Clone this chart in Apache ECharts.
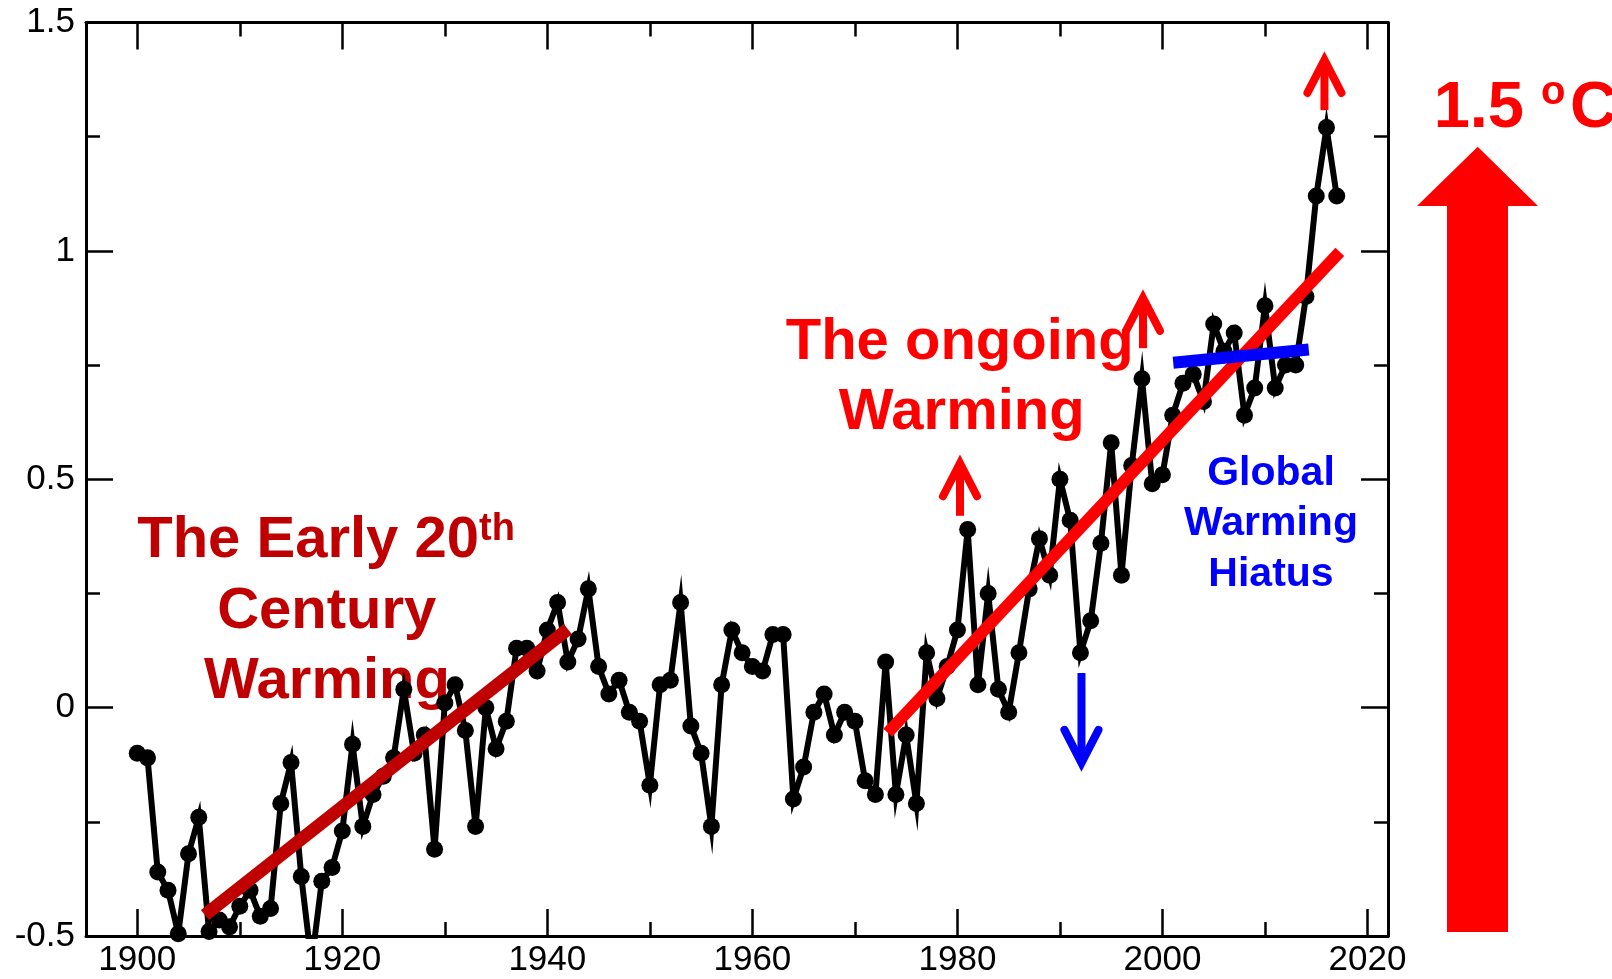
<!DOCTYPE html>
<html>
<head>
<meta charset="utf-8">
<script src="https://cdn.jsdelivr.net/npm/echarts@6/dist/echarts.min.js"></script>
<style>
html,body{margin:0;padding:0;background:#fff;}
#chart{width:1612px;height:979px;}
</style>
</head>
<body>
<div id="chart"></div>
<script>
// ---- data ----
var years = [];
for (var yr = 1900; yr <= 2017; yr++) years.push(yr);
var anomalies = [
 -0.10,-0.11,-0.36,-0.40,-0.495,-0.32,-0.24,-0.49,-0.465,-0.48,
 -0.435,-0.40,-0.457,-0.44,-0.21,-0.12,-0.37,-0.56,-0.38,-0.35,
 -0.27,-0.08,-0.26,-0.19,-0.15,-0.11,0.04,-0.10,-0.06,-0.31,
 0.01,0.05,-0.05,-0.26,0.00,-0.09,-0.03,0.13,0.13,0.08,
 0.17,0.23,0.10,0.15,0.26,0.09,0.03,0.06,-0.01,-0.03,
 -0.17,0.05,0.06,0.23,-0.04,-0.10,-0.26,0.05,0.17,0.12,
 0.09,0.08,0.16,0.16,-0.20,-0.13,-0.01,0.03,-0.06,-0.01,
 -0.03,-0.16,-0.19,0.10,-0.19,-0.06,-0.21,0.12,0.02,0.09,
 0.17,0.39,0.05,0.25,0.04,-0.01,0.12,0.26,0.37,0.29,
 0.50,0.41,0.12,0.19,0.36,0.58,0.29,0.53,0.72,0.49,
 0.51,0.64,0.71,0.73,0.67,0.84,0.78,0.82,0.64,0.70,
 0.88,0.70,0.75,0.75,0.90,1.12,1.27,1.12
];
var earlyTrend = [[1906.6,-0.454],[1942.0,0.172]];
var ongoingTrend = [[1973.2,-0.055],[2017.3,0.998]];
var hiatusTrend = [[2001.05,0.755],[2014.27,0.784]];
// arrows: [x, tail value, tip value]
var redArrows = [[1980.25,0.42,0.535],[1998.1,0.787,0.897],[2015.8,1.308,1.418]];
var blueArrows = [[1992.1,0.076,-0.121]];
var xMajorTicks = [1900,1920,1940,1960,1980,2000,2020];
var xMinorTicks = [1910,1930,1950,1970,1990,2010];

var seriesData = years.map(function(y,i){return [y, anomalies[i]];});
var FONT = '"Liberation Sans", Arial, sans-serif';

function arrowRender(color){
  return function(params, api){
    var x = api.value(0), a = api.value(1), b = api.value(2);
    var p0 = api.coord([x,a]), p1 = api.coord([x,b]);
    var dir = p1[1] < p0[1] ? 1 : -1;
    return {
      type:'group',
      children:[
        {type:'line', shape:{x1:p0[0],y1:p0[1],x2:p1[0],y2:p1[1]+dir*4},
         style:{stroke:color,lineWidth:8,lineCap:'butt'}},
        {type:'polyline', shape:{points:[[p1[0]-17,p1[1]+dir*33],[p1[0],p1[1]],[p1[0]+17,p1[1]+dir*33]]},
         style:{stroke:color,fill:null,lineWidth:8,lineCap:'round',lineJoin:'miter',miterLimit:10}}
      ]
    };
  };
}

function xAx(pos, ticks, len, withLine, withLabel){
  return {
    type:'value', position:pos, min:1895, max:2022,
    axisLine:{show:withLine, onZero:false, lineStyle:{color:'#000',width:3}},
    axisTick:{show:true, inside:true, length:len, customValues:ticks, lineStyle:{color:'#000',width:2.5}},
    axisLabel:{show:withLabel, customValues:ticks, fontSize:35, color:'#000', fontFamily:FONT, margin:7,
      formatter:function(v){return String(v);}},
    splitLine:{show:false}
  };
}
function yAx(pos, withLabel){
  return {
    type:'value', position:pos, min:-0.5, max:1.5, interval:0.5,
    axisLine:{show:true, onZero:false, lineStyle:{color:'#000',width:3}},
    axisTick:{show:true, inside:true, length:27, lineStyle:{color:'#000',width:2.5}},
    minorTick:{show:true, splitNumber:2, length:14, lineStyle:{color:'#000',width:2.5}},
    axisLabel:{show:withLabel, fontSize:35, color:'#000', fontFamily:FONT, margin:11},
    splitLine:{show:false}, minorSplitLine:{show:false}
  };
}

var chart = echarts.init(document.getElementById('chart'), null, {renderer:'canvas'});
var option = {
  backgroundColor:'#fff',
  animation:false,
  grid:{left:86, right:224, top:22.5, bottom:43, containLabel:false},
  xAxis:[
    xAx('bottom', xMajorTicks, 27, true, true),
    xAx('bottom', xMinorTicks, 14, false, false),
    xAx('top', xMajorTicks, 27, true, false),
    xAx('top', xMinorTicks, 14, false, false)
  ],
  yAxis:[ yAx('left', true), yAx('right', false) ],
  series:[
    {type:'line', data:seriesData, xAxisIndex:0, yAxisIndex:0, z:3,
     symbol:'circle', symbolSize:17, showAllSymbol:true, clip:true,
     itemStyle:{color:'#000'},
     lineStyle:{color:'#000', width:6, join:'miter', miterLimit:10}},
    {type:'line', data:earlyTrend, z:4, showSymbol:false, symbol:'none',
     lineStyle:{color:'#C00000', width:13, cap:'butt'}},
    {type:'line', data:ongoingTrend, z:4, showSymbol:false, symbol:'none',
     lineStyle:{color:'#FF0000', width:12, cap:'butt'}},
    {type:'line', data:hiatusTrend, z:4, showSymbol:false, symbol:'none',
     lineStyle:{color:'#0000FF', width:12, cap:'butt'}},
    {type:'custom', data:redArrows, z:5, renderItem:arrowRender('#FF0000'), clip:false},
    {type:'custom', data:blueArrows, z:5, renderItem:arrowRender('#0000FF'), clip:false}
  ],
  graphic:[
    {type:'text', z:0, style:{text:'The Early 20', x:479, y:540.6, textAlign:'right', textVerticalAlign:'middle', fill:'#C00000', font:'bold 58px '+FONT}},
    {type:'text', z:0, style:{text:'th', x:479, y:529.8, textAlign:'left', textVerticalAlign:'middle', fill:'#C00000', font:'bold 38px '+FONT}},
    {type:'text', z:0, style:{text:'Century', x:326.7, y:611.6, textAlign:'center', textVerticalAlign:'middle', fill:'#C00000', font:'bold 58px '+FONT}},
    {type:'text', z:0, style:{text:'Warming', x:327, y:682, textAlign:'center', textVerticalAlign:'middle', fill:'#C00000', font:'bold 58px '+FONT}},
    {type:'text', z:0, style:{text:'The ongoing', x:959.7, y:343.2, textAlign:'center', textVerticalAlign:'middle', fill:'#FF0000', font:'bold 58px '+FONT}},
    {type:'text', z:0, style:{text:'Warming', x:961.7, y:413.2, textAlign:'center', textVerticalAlign:'middle', fill:'#FF0000', font:'bold 58px '+FONT}},
    {type:'text', z:0, style:{text:'Global', x:1271, y:473.4, textAlign:'center', textVerticalAlign:'middle', fill:'#0000FF', font:'bold 41px '+FONT}},
    {type:'text', z:0, style:{text:'Warming', x:1271, y:523.4, textAlign:'center', textVerticalAlign:'middle', fill:'#0000FF', font:'bold 41px '+FONT}},
    {type:'text', z:0, style:{text:'Hiatus', x:1271, y:575.1, textAlign:'center', textVerticalAlign:'middle', fill:'#0000FF', font:'bold 41px '+FONT}},
    {type:'text', z:0, style:{text:'1.5', x:1524, y:109.2, textAlign:'right', textVerticalAlign:'middle', fill:'#FF0000', font:'bold 65px '+FONT}},
    {type:'text', z:0, style:{text:'o', x:1541, y:93.1, textAlign:'left', textVerticalAlign:'middle', fill:'#FF0000', font:'bold 40px '+FONT}},
    {type:'text', z:0, style:{text:'C', x:1570, y:109.2, textAlign:'left', textVerticalAlign:'middle', fill:'#FF0000', font:'bold 65px '+FONT}},
    {type:'polygon', z:0, shape:{points:[[1477.7,146.7],[1538,206],[1508,206],[1508,932],[1447,932],[1447,206],[1417,206]]}, style:{fill:'#FF0000'}}
  ]
};
chart.setOption(option);
</script>
</body>
</html>
